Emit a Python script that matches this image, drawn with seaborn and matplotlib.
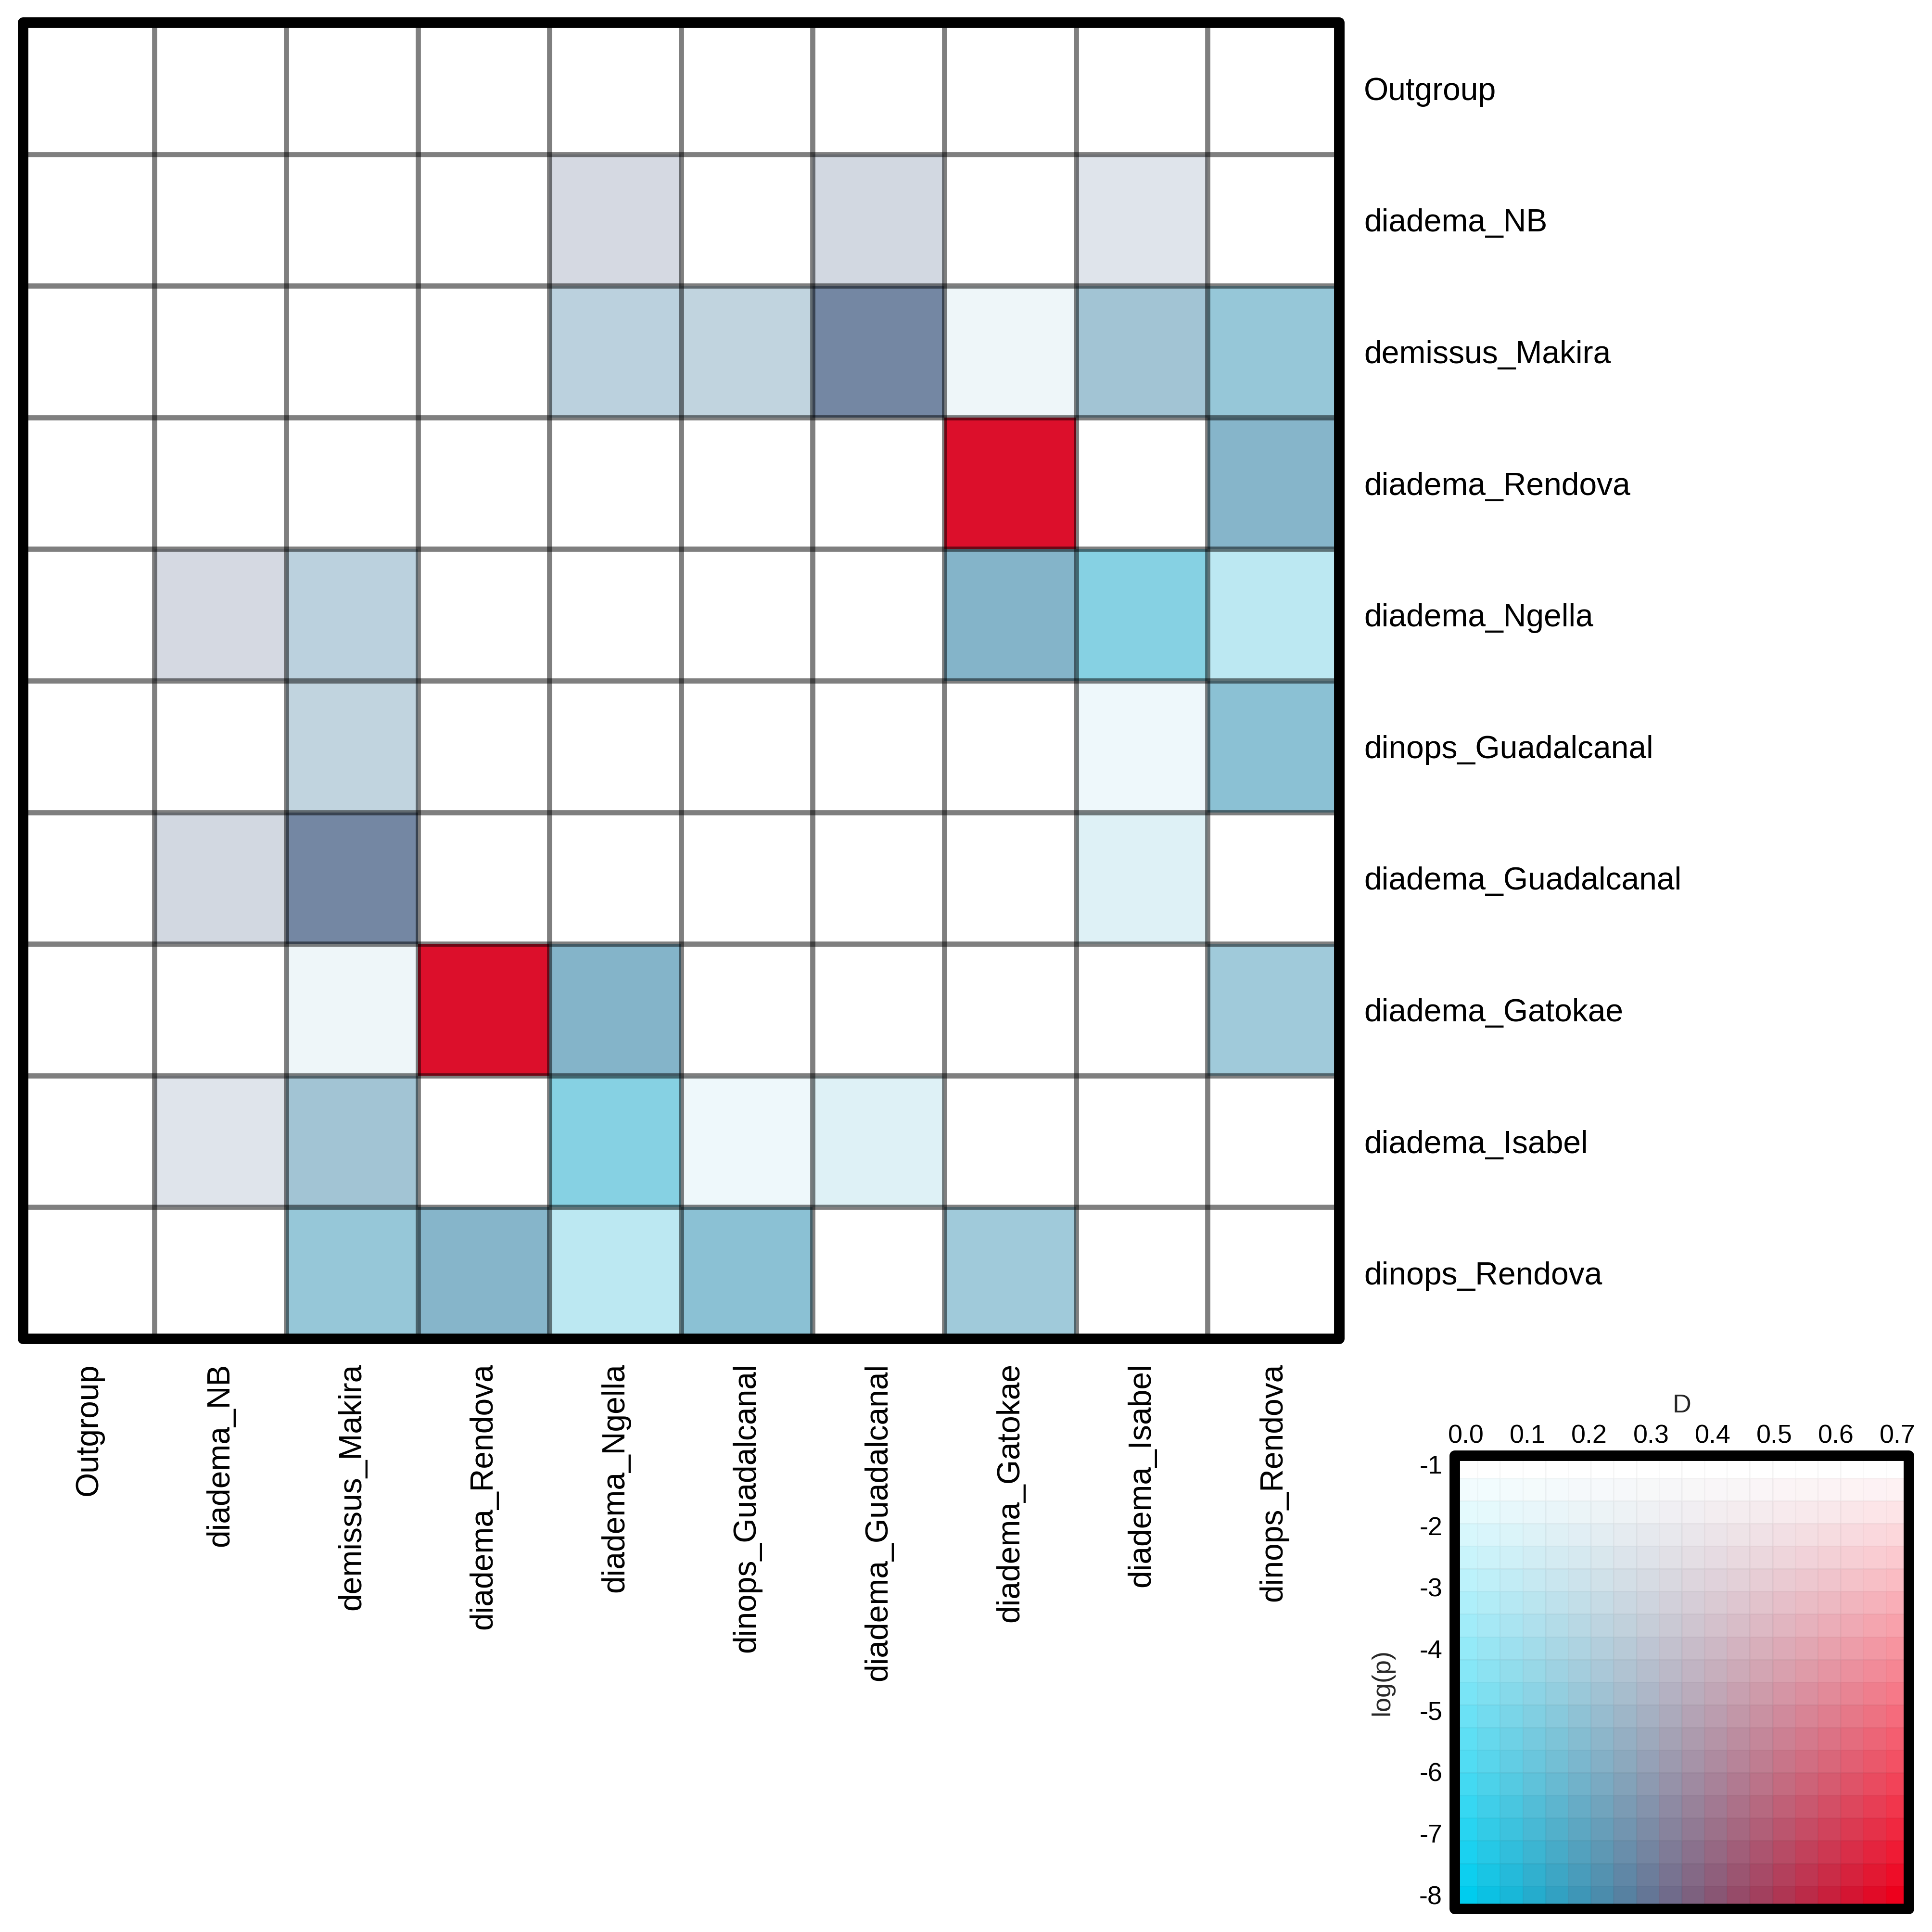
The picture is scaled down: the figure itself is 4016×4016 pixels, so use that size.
import numpy as np
import matplotlib
matplotlib.use('Agg')
import matplotlib.pyplot as plt
from matplotlib.colors import ListedColormap
from matplotlib.patches import Rectangle
import seaborn as sns

# =============================================================================
# 1. Data
# =============================================================================

taxa = ['Outgroup', 'diadema_NB', 'demissus_Makira', 'diadema_Rendova',
        'diadema_Ngella', 'dinops_Guadalcanal', 'diadema_Guadalcanal',
        'diadema_Gatokae', 'diadema_Isabel', 'dinops_Rendova']

n = np.nan

# Patterson's D per pair (blank = not significant)
d_values = np.array([
    [n,    n,    n,    n,    n,    n,    n,    n,    n,    n],
    [n,    n,    n,    n,    0.30, n,    0.29, n,    0.28, n],
    [n,    n,    n,    n,    0.23, 0.24, 0.29, 0.18, 0.22, 0.18],
    [n,    n,    n,    n,    n,    n,    n,    0.65, n,    0.21],
    [n,    0.30, 0.23, n,    n,    n,    n,    0.21, 0.11, 0.09],
    [n,    n,    0.24, n,    n,    n,    n,    n,    0.13, 0.18],
    [n,    0.29, 0.29, n,    n,    n,    n,    n,    0.13, n],
    [n,    n,    0.18, 0.65, 0.21, n,    n,    n,    n,    0.19],
    [n,    0.28, 0.22, n,    0.11, 0.13, 0.13, n,    n,    n],
    [n,    n,    0.18, 0.21, 0.09, 0.18, n,    0.19, n,    n],
])

# log(p) per pair
logp_values = np.array([
    [n,    n,    n,    n,    n,    n,    n,    n,    n,    n],
    [n,    n,    n,    n,    -2.9, n,    -3.0, n,    -2.4, n],
    [n,    n,    n,    n,    -3.7, -3.5, -7.2, -1.6, -4.6, -4.8],
    [n,    n,    n,    n,    n,    n,    n,    -8.0, n,    -5.6],
    [n,    -2.9, -3.7, n,    n,    n,    n,    -5.7, -4.9, -3.1],
    [n,    n,    -3.5, n,    n,    n,    n,    n,    -1.55, -5.2],
    [n,    -3.0, -7.2, n,    n,    n,    n,    n,    -2.1, n],
    [n,    n,    -1.6, -8.0, -5.7, n,    n,    n,    n,    -4.5],
    [n,    -2.4, -4.6, n,    -4.9, -1.55, -2.1, n,    n,    n],
    [n,    n,    -4.8, -5.6, -3.1, -5.2, n,    -4.5, n,    n],
])

# legend scale
d_ticks = [0.0, 0.1, 0.2, 0.3, 0.4, 0.5, 0.6, 0.7]
d_ticklabels = ['0.0', '0.1', '0.2', '0.3', '0.4', '0.5', '0.6', '0.7']
logp_ticks = [-1, -2, -3, -4, -5, -6, -7, -8]
logp_ticklabels = ['-1', '-2', '-3', '-4', '-5', '-6', '-7', '-8']

D_MAX = 0.7
LOGP_MIN, LOGP_MAX = -8.0, -1.0
N_KEY = 20

# =============================================================================
# 2. Bivariate colour scale
# =============================================================================

WHITE = np.array([255, 255, 255]) / 255
CYAN = np.array([0, 204, 238]) / 255
RED = np.array([237, 0, 28]) / 255


def bivar_color(d, lp):
    s = np.clip(d / D_MAX, 0, 1)
    t = np.clip((LOGP_MAX - lp) / (LOGP_MAX - LOGP_MIN), 0, 1)
    base = CYAN + s * (RED - CYAN)
    return tuple(WHITE + t * (base - WHITE))


def index_matrix(dm, lm):
    """Turn (D, logp) pairs into an index matrix + its listed colormap."""
    idx = np.full(dm.shape, np.nan)
    colors = []
    for i in range(dm.shape[0]):
        for j in range(dm.shape[1]):
            if np.isnan(dm[i, j]):
                continue
            idx[i, j] = len(colors)
            colors.append(bivar_color(dm[i, j], lm[i, j]))
    return idx, ListedColormap(colors)


# =============================================================================
# 3. Figure
# =============================================================================

sns.set_theme(style='white')
plt.rcParams['font.family'] = ['Liberation Sans', 'DejaVu Sans']
plt.rcParams['text.color'] = 'black'
plt.rcParams['xtick.color'] = 'black'
plt.rcParams['ytick.color'] = 'black'

fig = plt.figure(figsize=(16.064, 16.064), dpi=250)
fig.patch.set_facecolor('white')

FRAME_LW = 6.3
GRID_LW = 3.1

# ---- main matrix ------------------------------------------------------------
ax = fig.add_axes([0.0119, 0.3070, 0.6813, 0.6813])
idx, cmap = index_matrix(d_values, logp_values)
sns.heatmap(idx, ax=ax, cmap=cmap, vmin=-0.5, vmax=cmap.N - 0.5,
            cbar=False, square=True, xticklabels=taxa, yticklabels=taxa)
ax.set_facecolor('white')

for k in range(1, len(taxa)):
    ax.axhline(k, color='black', alpha=0.5, lw=GRID_LW, zorder=3)
    ax.axvline(k, color='black', alpha=0.5, lw=GRID_LW, zorder=3)

ax.yaxis.tick_right()
ax.tick_params(axis='y', length=0, pad=14.7, labelsize=19)
ax.tick_params(axis='x', length=0, pad=14.5, labelsize=19)
plt.setp(ax.get_yticklabels(), rotation=0, va='center_baseline')
plt.setp(ax.get_xticklabels(), rotation=90)
for sp in ax.spines.values():
    sp.set_visible(False)
ax.add_patch(Rectangle((0, 0), 1, 1, transform=ax.transAxes, fill=False,
                       ec='black', lw=FRAME_LW, joinstyle='round',
                       clip_on=False, zorder=10))

# ---- bivariate legend -------------------------------------------------------
lax = fig.add_axes([0.7530, 0.0120, 0.2350, 0.2346])
key_d = np.linspace(0, D_MAX, N_KEY)
key_lp = np.linspace(LOGP_MAX, LOGP_MIN, N_KEY)
key_D, key_L = np.meshgrid(key_d, key_lp)
key_idx, key_cmap = index_matrix(key_D, key_L)
sns.heatmap(key_idx, ax=lax, cmap=key_cmap, vmin=-0.5,
            vmax=key_cmap.N - 0.5, cbar=False,
            linewidths=0.3, linecolor=(0, 0, 0, 0.025))

step_d = D_MAX / (N_KEY - 1)
step_lp = (LOGP_MAX - LOGP_MIN) / (N_KEY - 1)
lax.set_xticks([v / step_d + 0.5 for v in d_ticks])
lax.set_xticklabels(d_ticklabels)
lax.set_yticks([(LOGP_MAX - v) / step_lp + 0.5 for v in logp_ticks])
lax.set_yticklabels(logp_ticklabels)
lax.xaxis.tick_top()
lax.xaxis.set_label_position('top')
lax.tick_params(axis='x', length=0, pad=4.3, labelsize=15.5, rotation=0)
lax.tick_params(axis='y', length=0, pad=7.5, labelsize=15.5, rotation=0)
lax.set_xlabel('D', fontsize=15.5, labelpad=7)
lax.set_ylabel('log(p)', fontsize=15.5, labelpad=15)
for sp in lax.spines.values():
    sp.set_visible(False)
lax.add_patch(Rectangle((0, 0), 1, 1, transform=lax.transAxes, fill=False,
                        ec='black', lw=FRAME_LW, joinstyle='round',
                        clip_on=False, zorder=10))

fig.savefig('out.png', dpi=250, facecolor='white')
